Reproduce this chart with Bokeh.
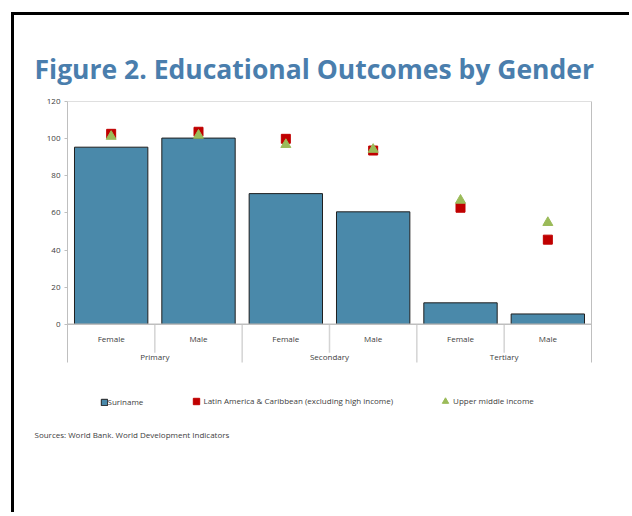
from bokeh.plotting import figure
from bokeh.models import (FactorRange, Range1d, FixedTicker, LinearAxis, Span, Title,
                          Legend, LegendItem, ColumnDataSource)
from bokeh.core.properties import value
from bokeh.embed import file_html
from bokeh.resources import INLINE

# ---- data ----
levels = ["Primary", "Secondary", "Tertiary"]
genders = ["Female", "Male"]
suriname = [95.4, 100.3, 70.4, 60.6, 11.6, 5.6]
lac = [102.6, 103.7, 99.9, 93.6, 62.8, 45.6]
umi = [101.2, 101.8, 96.8, 94.2, 66.8, 54.8]
y_ticks = [0, 20, 40, 60, 80, 100, 120]
series_names = ["Suriname", "Latin America & Caribbean (excluding high income)", "Upper middle income"]
title_text = "Figure 2. Educational Outcomes by Gender"
source_text = "Sources: World Bank. World Development Indicators"

FONT = "Open Sans"
GRAY = "#bfbfbf"
SEP = "#d4d4d4"
TXT = "#404040"
BAR = "#4a89aa"
AXIS_LO = -20.5   # bottom of the category-label band

factors = [(l, g) for l in levels for g in genders]
src = ColumnDataSource(dict(x=factors, suriname=suriname, lac=lac, umi=umi,
                            lab=[g for l in levels for g in genders]))

W, H = 618, 500
p = figure(width=W, height=H,
           x_range=FactorRange(*factors, group_padding=0, range_padding=0),
           y_range=Range1d(-48, 120),
           x_axis_location=None,
           output_backend="svg", toolbar_location=None,
           min_border_left=53, min_border_right=41, min_border_top=86, min_border_bottom=102,
           outline_line_color=None, background_fill_color="white", border_fill_color="white")
p.styles = {"border-left": "3px solid black", "border-top": "3px solid black",
            "margin-left": "11px", "margin-top": "12px"}
p.xgrid.visible = False
p.ygrid.visible = False

ya = p.yaxis[0]
ya.ticker = FixedTicker(ticks=y_ticks)
ya.bounds = (AXIS_LO, 120)
ya.axis_line_color = GRAY
ya.major_tick_line_color = GRAY
ya.major_tick_out = 3
ya.major_tick_in = 0
ya.minor_tick_line_color = None
ya.major_label_text_font_size = "8px"
ya.major_label_text_font = FONT
ya.major_label_text_color = TXT
ya.major_label_standoff = 4

ra = LinearAxis(ticker=FixedTicker(ticks=[]), bounds=(AXIS_LO, 120), axis_line_color=GRAY,
                major_tick_line_color=None, minor_tick_line_color=None)
p.add_layout(ra, "right")
p.add_layout(Span(location=120, dimension="width", line_color=GRAY, line_width=1))

# bars
bars = p.vbar(x="x", top="suriname", bottom=0, width=0.84, source=src,
              fill_color=BAR, line_color="#1f1f1f", line_width=1)

p.add_layout(Span(location=0, dimension="width", line_color=GRAY, line_width=1.5))

# category separators
sub_x = [(l, genders[0], 0.5) for l in levels]
grp_x = [(l, genders[-1], 0.5) for l in levels[:-1]]
p.segment(x0=sub_x, y0=0, x1=sub_x, y1=-15.3, line_color=SEP, line_width=1.5)
p.segment(x0=grp_x, y0=0, x1=grp_x, y1=AXIS_LO, line_color=SEP, line_width=1.5)

# category labels
p.text(x="x", y=-7.5, text="lab", source=src, text_align="center", text_baseline="middle",
       text_font_size="8px", text_font=value(FONT), text_color=TXT)
p.text(x=[(l, genders[0], 0.5) for l in levels], y=-17.2, text=levels,
       text_align="center", text_baseline="middle",
       text_font_size="8px", text_font=value(FONT), text_color=TXT)

# markers
lac_r = p.scatter(x="x", y="lac", source=src, marker="square", size=9,
                  fill_color="#c00000", line_color="#c00000")
umi_r = p.scatter(x="x", y="umi", source=src, marker="triangle", size=10,
                  fill_color="#9bbb59", line_color="#9bbb59")

# main title (above)
p.add_layout(Title(text=title_text, align="left", offset=-33, standoff=30,
                   text_font=FONT, text_font_style="bold", text_font_size="26.5px",
                   text_color="#4a7ead"), "above")

leg_common = dict(orientation="horizontal", padding=0, margin=0, border_line_color=None,
                  background_fill_alpha=0, label_text_font_size="8px",
                  label_text_font=FONT, label_text_color=TXT)
legend1 = Legend(items=[LegendItem(label=series_names[0], renderers=[bars])],
                 location=(32.5, 6), glyph_width=8, glyph_height=8, label_height=8,
                 label_standoff=0, **leg_common)
legend2 = Legend(items=[LegendItem(label=series_names[1], renderers=[lac_r]),
                        LegendItem(label=series_names[2], renderers=[umi_r])],
                 location=(120.5, 4.5), glyph_width=16, glyph_height=16, label_height=16,
                 label_standoff=-9, spacing=44, **leg_common)
p.add_layout(legend1)
p.add_layout(legend2)

p.add_layout(Title(text=source_text, align="left", offset=-33, standoff=26,
                   text_font=FONT, text_font_style="normal", text_font_size="8px",
                   text_color=TXT), "below")

open("out.html", "w").write(file_html(p, INLINE))
